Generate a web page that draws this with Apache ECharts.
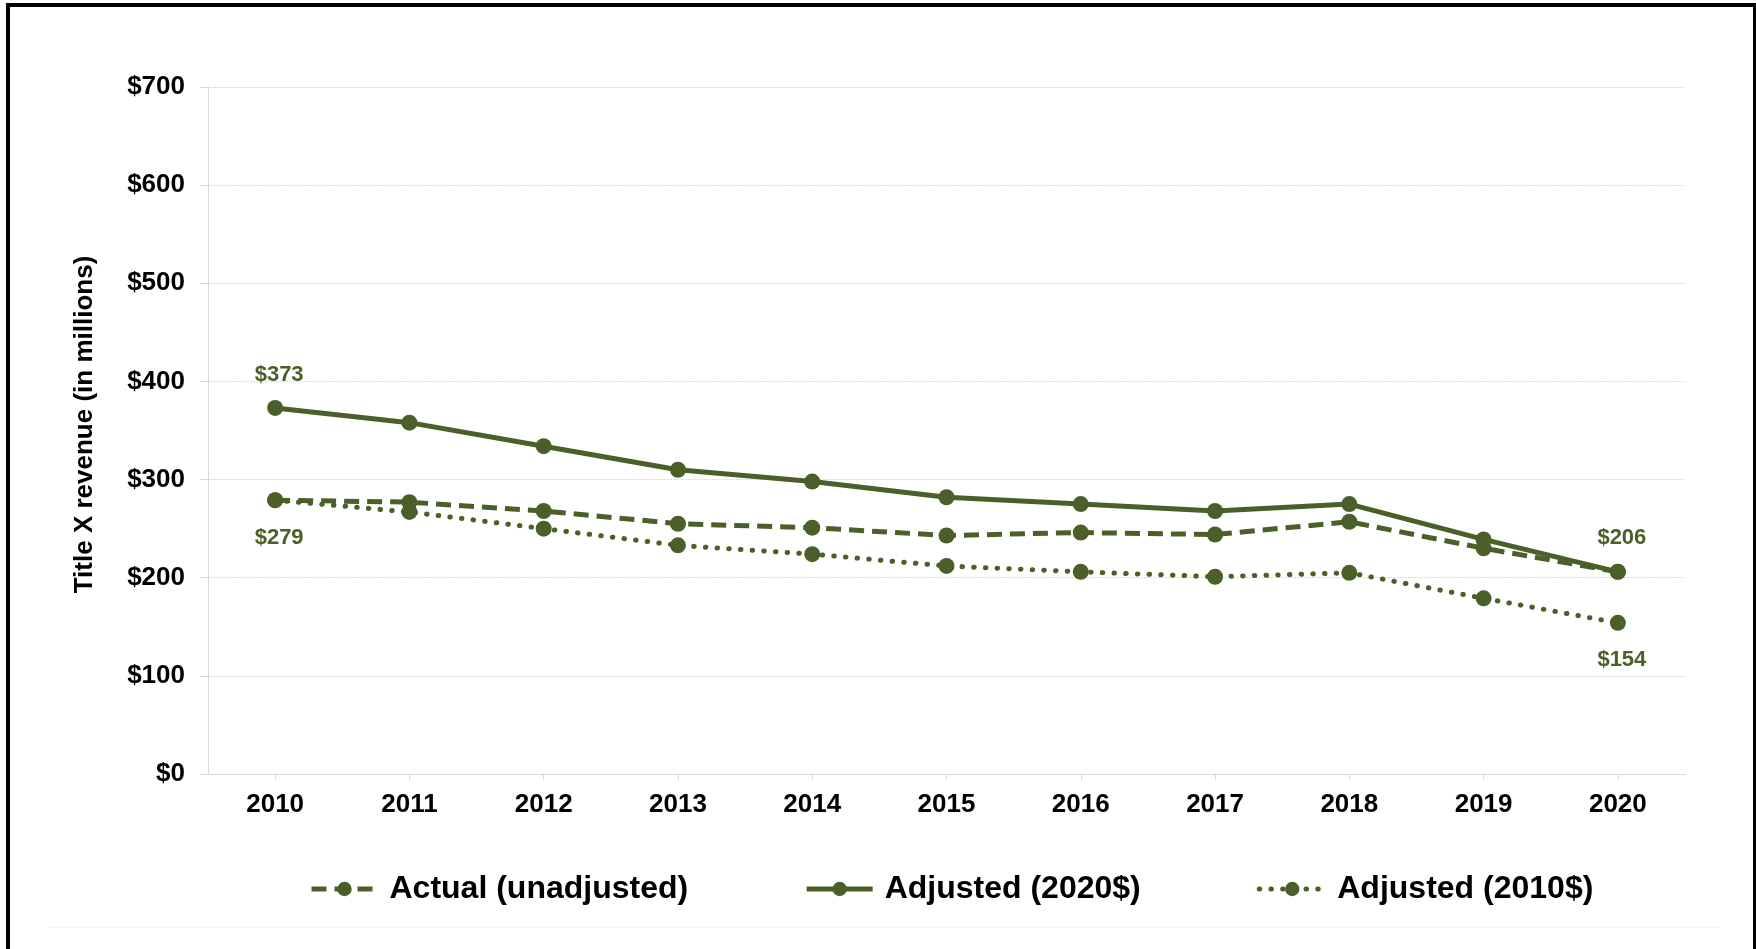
<!DOCTYPE html>
<html>
<head>
<meta charset="utf-8">
<title>Title X revenue</title>
<script src="https://cdn.jsdelivr.net/npm/echarts@6/dist/echarts.min.js"></script>
<style>
  html, body { margin: 0; padding: 0; background: #ffffff; overflow: hidden; }
  #chart { position: absolute; left: 0; top: 0; width: 1756px; height: 949px; }
  #frame {
    position: absolute; left: 6px; top: 3px; width: 1743px; height: 1000px;
    border-top: 4px solid #000; border-left: 4px solid #000; border-right: 4px solid #000;
    pointer-events: none;
  }
</style>
</head>
<body>
<div id="chart"></div>
<div id="frame"></div>
<script>
// Fiscal years on the horizontal axis
const years = ['2010', '2011', '2012', '2013', '2014', '2015', '2016', '2017', '2018', '2019', '2020'];

// Title X revenue, in millions of dollars
const actualUnadjusted = [279, 277, 268, 255, 251, 243, 246, 244, 257, 230, 206];
const adjusted2020 = [373, 358, 334, 310, 298, 282, 275, 268, 275, 239, 206];
const adjusted2010 = [279, 267, 250, 233, 224, 212, 206, 201, 205, 179, 154];

// Value axis range and step
const yMin = 0;
const yMax = 700;
const yStep = 100;

const seriesNames = ['Actual (unadjusted)', 'Adjusted (2020$)', 'Adjusted (2010$)'];

const green = '#4B6028';
const font = '"Liberation Sans", Arial, Helvetica, sans-serif';

// Line styles shared by the series and their legend icons
const dashedLine = { color: green, width: 5, type: [15, 8] };
const solidLine = { color: green, width: 5, type: 'solid' };
const dottedLine = { color: green, width: 5, type: [0.5, 11.2], cap: 'round' };

const labelStyle = {
  show: true,
  color: green,
  fontFamily: font,
  fontWeight: 'bold',
  fontSize: 22,
  offset: [4, 0],
  formatter: p => '$' + p.value
};

// Marks the first and last points of a series with value labels
function withEndLabels(values, firstPos, firstDist, lastPos, lastDist) {
  return values.map((v, i) => {
    if (i === 0 && firstPos) {
      return { value: v, label: Object.assign({}, labelStyle, { position: firstPos, distance: firstDist }) };
    }
    if (i === values.length - 1 && lastPos) {
      return { value: v, label: Object.assign({}, labelStyle, { position: lastPos, distance: lastDist }) };
    }
    return v;
  });
}

const chart = echarts.init(document.getElementById('chart'), null, { renderer: 'canvas' });

chart.setOption({
  animation: false,
  backgroundColor: '#ffffff',
  grid: { left: 208, right: 71, top: 87, bottom: 175, containLabel: false },
  legend: {
    data: [
      { name: seriesNames[0], lineStyle: dashedLine, itemStyle: { color: green } },
      { name: seriesNames[1], lineStyle: solidLine, itemStyle: { color: green } },
      { name: seriesNames[2], lineStyle: dottedLine, itemStyle: { color: green } }
    ],
    left: 304,
    top: 868,
    itemWidth: 66,
    itemHeight: 18,
    itemGap: 116,
    textStyle: {
      fontFamily: font,
      fontWeight: 'bold',
      fontSize: 32,
      color: '#000000',
      padding: [0, 0, 0, 7]
    }
  },
  xAxis: {
    type: 'category',
    data: years,
    boundaryGap: true,
    axisLine: { show: true, lineStyle: { color: '#d9d9d9', width: 1 } },
    axisTick: { show: true, alignWithLabel: true, length: 6, lineStyle: { color: '#d9d9d9' } },
    axisLabel: {
      color: '#000000',
      fontFamily: font,
      fontWeight: 'bold',
      fontSize: 26,
      margin: 18
    },
    splitLine: { show: false }
  },
  yAxis: {
    type: 'value',
    min: yMin,
    max: yMax,
    interval: yStep,
    name: 'Title X revenue (in millions)',
    nameLocation: 'middle',
    nameGap: 110,
    nameRotate: 90,
    nameTextStyle: {
      color: '#000000',
      fontFamily: font,
      fontWeight: 'bold',
      fontSize: 26,
      padding: [0, 0, 0, 12]
    },
    axisLine: { show: true, lineStyle: { color: '#d9d9d9', width: 1 } },
    axisTick: { show: true, length: 8, lineStyle: { color: '#d9d9d9' } },
    axisLabel: {
      color: '#000000',
      fontFamily: font,
      fontWeight: 'bold',
      fontSize: 26,
      margin: 23,
      formatter: v => '$' + v
    },
    splitLine: { show: true, lineStyle: { color: '#dcdcdc', width: 1, type: [2, 1] } }
  },
  series: [
    {
      name: seriesNames[0],
      type: 'line',
      data: withEndLabels(actualUnadjusted, 'bottom', 19, null, 0),
      symbol: 'circle',
      symbolSize: 16,
      color: green,
      itemStyle: { color: green },
      lineStyle: dashedLine,
      z: 3
    },
    {
      name: seriesNames[1],
      type: 'line',
      data: withEndLabels(adjusted2020, 'top', 14, 'top', 15),
      symbol: 'circle',
      symbolSize: 16,
      color: green,
      itemStyle: { color: green },
      lineStyle: solidLine,
      z: 4
    },
    {
      name: seriesNames[2],
      type: 'line',
      data: withEndLabels(adjusted2010, null, 0, 'bottom', 18),
      symbol: 'circle',
      symbolSize: 16,
      color: green,
      itemStyle: { color: green },
      lineStyle: dottedLine,
      z: 2
    }
  ],
  graphic: [
    {
      type: 'line',
      shape: { x1: 48, y1: 927.5, x2: 1720, y2: 927.5 },
      style: { stroke: '#f5f5f5', lineWidth: 1 },
      silent: true
    }
  ]
});
</script>
</body>
</html>
